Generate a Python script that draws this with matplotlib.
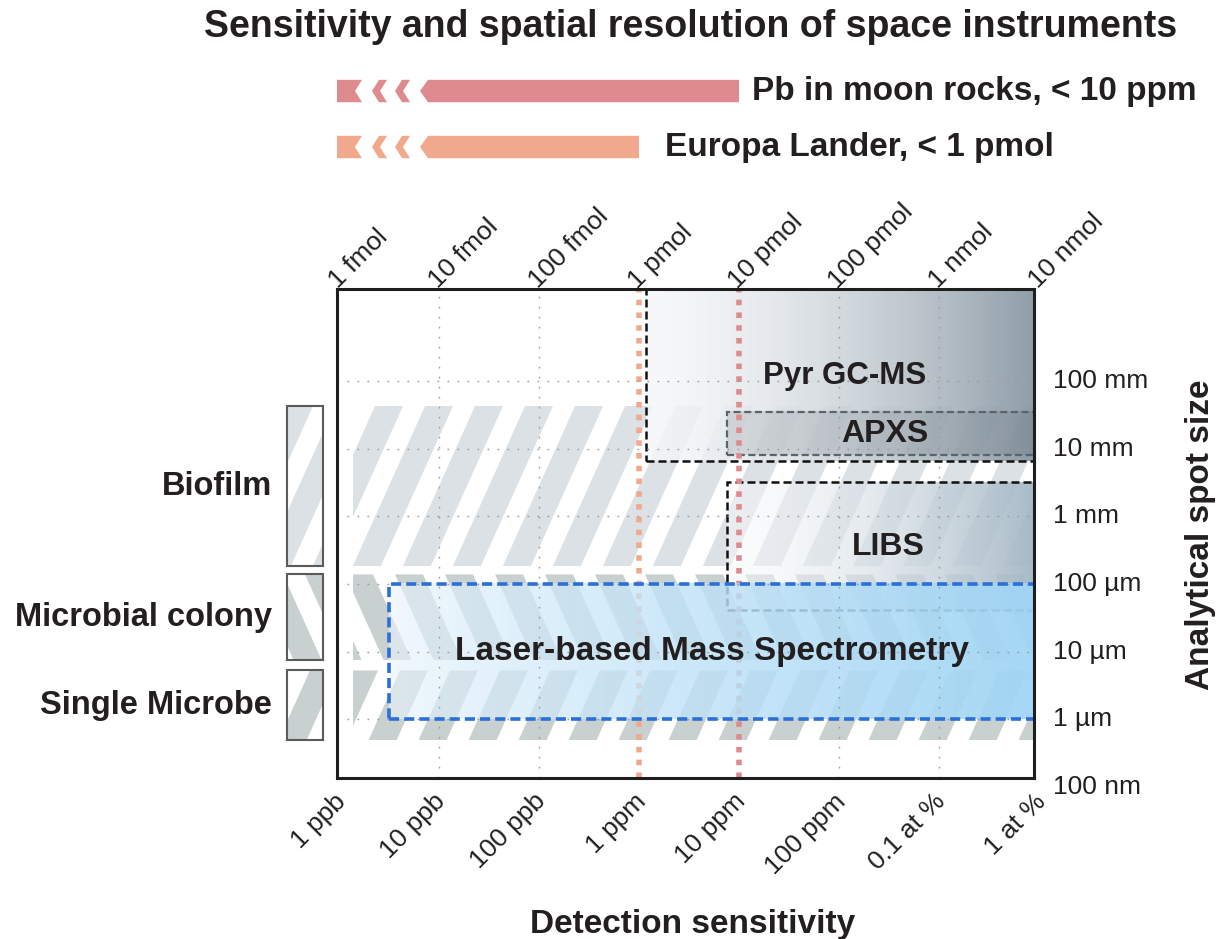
import numpy as np
import matplotlib.pyplot as plt
from matplotlib.patches import Polygon, Rectangle

plt.rcParams['font.family'] = ['Liberation Sans', 'DejaVu Sans']
TXT = '#231f20'

# x axis: decades above 1 ppb (bottom) / 1 fmol (top)
decades = [0, 1, 2, 3, 4, 5, 6, 7]
conc_labels = ['1 ppb', '10 ppb', '100 ppb', '1 ppm', '10 ppm', '100 ppm', '0.1 at %', '1 at %']
amount_labels = ['1 fmol', '10 fmol', '100 fmol', '1 pmol', '10 pmol', '100 pmol', '1 nmol', '10 nmol']

# y axis: log10 of spot size in metres
size_log = [-7, -6, -5, -4, -3, -2, -1]
size_labels = ['100 nm', '1 µm', '10 µm', '100 µm', '1 mm', '10 mm', '100 mm']

# required detection limits (arrows on top + vertical lines)
limit_names = ['Pb in moon rocks, < 10 ppm', 'Europa Lander, < 1 pmol']
limit_values = [4, 3]
limit_colors = ['#df8a8f', '#f1a98e']
limit_gap = [0.13, 0.26]

# sample types (hatched bands), spot size range in log10 m
sample_names = ['Biofilm', 'Microbial colony', 'Single Microbe']
sample_top = [-1.37, -3.86, -5.28]
sample_bottom = [-3.74, -5.13, -6.31]
sample_lean = [1, -1, 1]
sample_phase = [0.36, 0.56, 0.61]
sample_colors = ['#dce1e6', '#c9d0d0', '#c9d0d0']
band_left = 0.14

# instruments: best sensitivity and spot size range
inst_names = ['Pyr GC-MS', 'APXS', 'LIBS', 'Laser-based Mass Spectrometry']
inst_xmin = [3.07, 3.88, 3.88, 0.5]
inst_ymin = [-2.19, -2.10, -4.38, -6.0]
inst_ymax = [0.6, -1.455, -2.49, -4.0]
inst_label_x = [5.06, 5.46, 5.49, 3.73]
inst_label_y = [-0.92, -1.79, -3.45, -5.0]
inst_fontsize = [22.5, 23, 23, 24]

XL = (-0.02, 6.95)
YL = (-6.87, 0.36)


def gradient(ax, x0, x1, y0, y1, c0, c1, a0, a1, power, z):
    t = np.linspace(0, 1, 300) ** power
    img = np.zeros((2, 300, 4))
    for i in range(3):
        img[..., i] = (c0[i] + (c1[i] - c0[i]) * t) / 255
    img[..., 3] = a0 + (a1 - a0) * t
    ax.imshow(img, extent=[x0, x1, y0, y1], aspect='auto', zorder=z,
              interpolation='bilinear')


def stripes(ax, x0, x1, y0, y1, lean, color, phase, z):
    period, width, slope = 0.5, 0.28, 0.305
    clip = Rectangle((x0, y0), x1 - x0, y1 - y0, transform=ax.transData)
    shift = lean * slope * (y1 - y0)
    for xt in np.arange(phase - 4, x1 + 2, period):
        xb = xt - shift
        p = Polygon([(xb, y0), (xb + width, y0), (xt + width, y1), (xt, y1)],
                    closed=True, facecolor=color, edgecolor='none', zorder=z)
        ax.add_patch(p)
        p.set_clip_path(clip)


fig = plt.figure(figsize=(12.23, 9.39), dpi=100)
L, W = 337 / 1223, 697 / 1223
ax = fig.add_axes([L, 1 - 778 / 939, W, 489 / 939])

# hatched sample bands + legend boxes
for name, yt, yb, lean, ph, col in zip(sample_names, sample_top, sample_bottom,
                                       sample_lean, sample_phase, sample_colors):
    stripes(ax, band_left, XL[1], yb, yt, lean, col, ph, 1)
    ax.add_patch(Rectangle((-0.52, yb), 0.36, yt - yb, facecolor='white',
                           edgecolor='none', clip_on=False, zorder=2))
    stripes(ax, -0.52, -0.16, yb, yt, lean, col, ph + 0.1, 2.5)
    ax.add_patch(Rectangle((-0.52, yb), 0.36, yt - yb, fill=False, edgecolor='#5a5a5a',
                           lw=1.5, clip_on=False, zorder=3))
    ax.text(-0.67, (yt + yb) / 2, name, ha='right', va='center', fontsize=23.5,
            fontweight='bold', color=TXT, clip_on=False)

# instrument regions
gradient(ax, inst_xmin[0], 7, inst_ymin[0], inst_ymax[0], (245, 247, 249), (132, 148, 160),
         0.85, 0.92, 1.5, 2)
gradient(ax, inst_xmin[1], 7, inst_ymin[1], inst_ymax[1], (70, 80, 90), (70, 80, 90),
         0.15, 0.15, 1, 2.1)
gradient(ax, inst_xmin[2], 7, inst_ymin[2], inst_ymax[2], (250, 251, 252), (162, 182, 196),
         0.5, 0.95, 1.2, 2.2)
gradient(ax, inst_xmin[3], 7, inst_ymin[3], inst_ymax[3], (236, 245, 252), (160, 213, 245),
         0.6, 0.95, 0.7, 4)

styles = [('#111111', 1.8, (0, (3.2, 1.6)), 3),
          ('#5b636b', 1.6, (0, (3.2, 1.6)), 3),
          ('#111111', 1.8, (0, (3.2, 1.6)), 3),
          ('#2b6fd8', 2.6, (0, (2.8, 1.4)), 5)]
for x0, y0, y1, (c, lw, ls, z) in zip(inst_xmin, inst_ymin, inst_ymax, styles):
    ax.add_patch(Rectangle((x0, y0), 8 - x0, y1 - y0, fill=False, edgecolor=c,
                           lw=lw, linestyle=ls, zorder=z))
for name, lx, ly, fs in zip(inst_names, inst_label_x, inst_label_y, inst_fontsize):
    ax.text(lx, ly, name, ha='center', va='center', fontsize=fs, fontweight='bold',
            color=TXT, zorder=6)

# detection limit lines
for xv, col in zip(limit_values, limit_colors):
    ax.axvline(xv, color=col, lw=4.0, linestyle=(0, (1, 1.3)), zorder=3.5)

# grid (skipped where a limit line sits)
for xv in decades[1:-1]:
    if xv not in limit_values:
        ax.axvline(xv, color='#9a9a9a', lw=1.0, linestyle=(0, (1.2, 6)), zorder=4.5)
for yv in size_log[1:]:
    ax.axhline(yv, color='#9a9a9a', lw=1.0, linestyle=(0, (1.2, 6)), zorder=4.5)

ax.set_xlim(XL)
ax.set_ylim(YL)
ax.set_xticks([])
ax.set_yticks([])
for s in ax.spines.values():
    s.set_linewidth(2.2)
    s.set_color('#1e1e1e')
    s.set_zorder(10)

# tick labels
for xv, lab in zip(decades, conc_labels):
    ax.annotate(lab, (xv, 0), xycoords=('data', 'axes fraction'), xytext=(-4, -8),
                textcoords='offset points', rotation=45, rotation_mode='anchor',
                ha='right', va='top', fontsize=19, color=TXT)
for xv, lab in zip(decades, amount_labels):
    ax.annotate(lab, (xv, 1), xycoords=('data', 'axes fraction'), xytext=(-1, 0),
                textcoords='offset points', rotation=45, rotation_mode='anchor',
                ha='left', va='baseline', fontsize=19, color=TXT)
for yv, lab in zip(size_log, size_labels):
    ax.annotate(lab, (1, yv), xycoords=('axes fraction', 'data'), xytext=(14, 0),
                textcoords='offset points', ha='left', va='center', fontsize=19, color=TXT)

# arrows for required limits
ax_top = fig.add_axes([L, 1 - 175 / 939, W, 115 / 939])
ax_top.set_xlim(XL)
ax_top.set_ylim(1.5, -0.554)
ax_top.axis('off')
h = 0.2
for r, (name, xe, col, gap) in enumerate(zip(limit_names, limit_values, limit_colors, limit_gap)):
    shapes = [[(XL[0], r - h), (0.23, r - h), (0.16, r), (0.23, r + h), (XL[0], r + h)]]
    for t in (0.33, 0.56):
        shapes.append([(t, r), (t + 0.07, r - h), (t + 0.15, r - h), (t + 0.08, r),
                       (t + 0.15, r + h), (t + 0.07, r + h)])
    shapes.append([(0.81, r), (0.89, r - h), (xe, r - h), (xe, r + h), (0.89, r + h)])
    for pts in shapes:
        ax_top.add_patch(Polygon(pts, closed=True, facecolor=col, edgecolor='none'))
    ax_top.text(xe + gap, r, name, ha='left', va='center', fontsize=24,
                fontweight='bold', color=TXT, clip_on=False)

fig.text(0.565, 1 - 27 / 939, 'Sensitivity and spatial resolution of space instruments',
         ha='center', va='center', fontsize=27, fontweight='bold', color=TXT)
fig.text(0.566, 1 - 925 / 939, 'Detection sensitivity', ha='center', va='center',
         fontsize=24, fontweight='bold', color=TXT)
fig.text(1200 / 1223, 1 - 535 / 939, 'Analytical spot size', ha='center', va='center',
         rotation=90, fontsize=24, fontweight='bold', color=TXT)

fig.savefig('out.png', dpi=100)
